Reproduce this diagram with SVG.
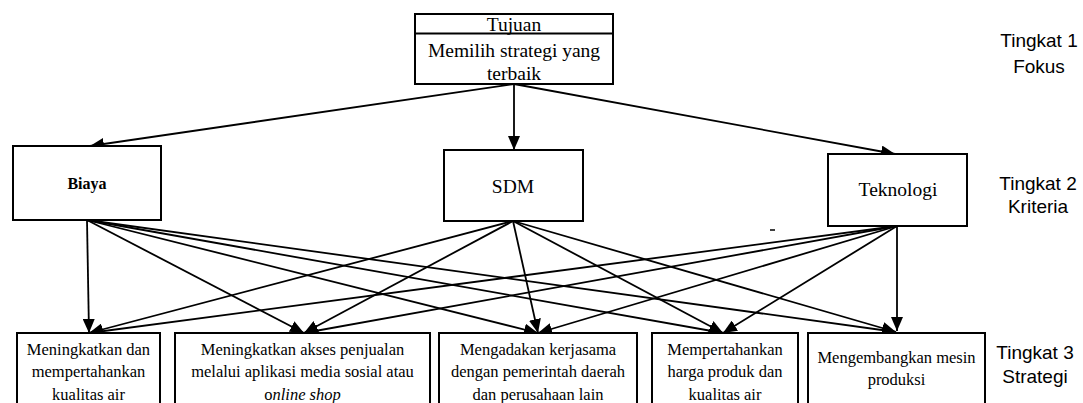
<svg xmlns="http://www.w3.org/2000/svg" width="1083" height="403" viewBox="0 0 1083 403">
<style>
.box{fill:#fff;stroke:#000;stroke-width:2}
.t{font-family:"Liberation Serif","Times New Roman",serif;fill:#000;text-anchor:middle}
.t20{font-size:19.5px}
.t16{font-size:16.5px}
.lab{font-family:"Liberation Sans",Arial,sans-serif;font-size:19px;fill:#000;text-anchor:middle}
.c{stroke:#000;stroke-width:1.8;fill:none;marker-end:url(#ah)}
</style>
<defs>
<marker id="ah" markerUnits="userSpaceOnUse" markerWidth="14" markerHeight="12" viewBox="0 0 14 12" refX="14" refY="6" orient="auto">
<path d="M0,0 L14,6 L0,12 Z" fill="#000"/>
</marker>
</defs>
<rect width="1083" height="403" fill="#fff"/>
<g id="connectors">
<line class="c" x1="514" y1="84" x2="90" y2="146"/>
<line class="c" x1="514" y1="84" x2="514" y2="150"/>
<line class="c" x1="514" y1="84" x2="895" y2="154"/>
<line class="c" x1="87" y1="220" x2="89" y2="333"/>
<line class="c" x1="87" y1="220" x2="304" y2="333"/>
<line class="c" x1="87" y1="220" x2="538" y2="333"/>
<line class="c" x1="87" y1="220" x2="723" y2="333"/>
<line class="c" x1="87" y1="220" x2="896" y2="332"/>
<line class="c" x1="513" y1="221" x2="89" y2="333"/>
<line class="c" x1="513" y1="221" x2="304" y2="333"/>
<line class="c" x1="513" y1="221" x2="538" y2="333"/>
<line class="c" x1="513" y1="221" x2="723" y2="333"/>
<line class="c" x1="513" y1="221" x2="896" y2="332"/>
<line class="c" x1="897" y1="226" x2="89" y2="333"/>
<line class="c" x1="897" y1="226" x2="304" y2="333"/>
<line class="c" x1="897" y1="226" x2="538" y2="333"/>
<line class="c" x1="897" y1="226" x2="723" y2="333"/>
<line class="c" x1="897" y1="226" x2="897" y2="331"/>
</g>
<g id="tujuan">
<rect class="box" x="415" y="14" width="198" height="70"/>
<line x1="415" y1="33.5" x2="613" y2="33.5" stroke="#000" stroke-width="2"/>
<text class="t t20" x="514" y="31">Tujuan</text>
<text class="t t20" x="514" y="57">Memilih strategi yang</text>
<text class="t t20" x="514" y="80">terbaik</text>
</g>
<g id="biaya">
<rect class="box" x="13" y="146" width="148" height="74"/>
<text class="t" x="87" y="189" font-size="16" font-weight="bold">Biaya</text>
</g>
<g id="sdm">
<rect class="box" x="444" y="150" width="139" height="71"/>
<text class="t t20" x="513" y="193">SDM</text>
</g>
<g id="teknologi">
<rect class="box" x="828" y="154" width="139" height="72"/>
<text class="t t20" x="898" y="196">Teknologi</text>
</g>
<g id="s1">
<rect class="box" x="17" y="333" width="143" height="80"/>
<text class="t t16" x="88.5" y="355">Meningkatkan dan</text>
<text class="t t16" x="88.5" y="377">mempertahankan</text>
<text class="t t16" x="88.5" y="400">kualitas air</text>
</g>
<g id="s2">
<rect class="box" x="175" y="333" width="255" height="80"/>
<text class="t t16" x="302.5" y="355">Meningkatkan akses penjualan</text>
<text class="t t16" x="302.5" y="377">melalui aplikasi media sosial atau</text>
<text class="t t16" x="302.5" y="400">o<tspan font-style="italic">nline shop</tspan></text>
</g>
<g id="s3">
<rect class="box" x="439" y="333" width="198" height="80"/>
<text class="t t16" x="538" y="355">Mengadakan kerjasama</text>
<text class="t t16" x="538" y="377">dengan pemerintah daerah</text>
<text class="t t16" x="538" y="400">dan perusahaan lain</text>
</g>
<g id="s4">
<rect class="box" x="652" y="333" width="146" height="80"/>
<text class="t t16" x="725" y="355">Mempertahankan</text>
<text class="t t16" x="725" y="377">harga produk dan</text>
<text class="t t16" x="725" y="400">kualitas air</text>
</g>
<g id="s5">
<rect class="box" x="808" y="333" width="177" height="80"/>
<text class="t t16" x="896.5" y="363">Mengembangkan mesin</text>
<text class="t t16" x="896.5" y="385">produksi</text>
</g>
<g id="labels">
<text class="lab" x="1039" y="47">Tingkat 1</text>
<text class="lab" x="1039" y="73">Fokus</text>
<text class="lab" x="1038" y="190">Tingkat 2</text>
<text class="lab" x="1038" y="213">Kriteria</text>
<text class="lab" x="1035" y="359">Tingkat 3</text>
<text class="lab" x="1035" y="383">Strategi</text>
</g>
<line x1="770" y1="230" x2="775" y2="230" stroke="#000" stroke-width="1.5"/>
</svg>
